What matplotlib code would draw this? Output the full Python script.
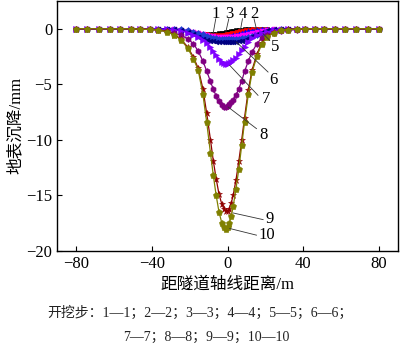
import matplotlib
matplotlib.use('Agg')
import matplotlib.pyplot as plt

plt.rcParams['font.family'] = ['Liberation Serif', 'Noto Sans CJK SC']
plt.rcParams['axes.unicode_minus'] = True

# distance from tunnel axis (m), graded mesh
x = [-80, -74, -68, -62, -56.5, -51, -46, -41, -36.5, -32, -28, -24.5, -21, -18, -15.5, -13,
     -11, -9, -7.5, -6, -4.5, -3, -2, -1, 0, 1, 2, 3, 4.5, 6, 7.5, 9, 11, 13, 15.5, 18,
     21, 24.5, 28, 32, 36.5, 41, 46, 51, 56.5, 62, 68, 74, 80]

# surface settlement (mm) for excavation steps 1..10
s1 = [0, 0, 0, 0, 0, 0, 0, 0,
      -0.02, -0.05, -0.10, -0.18, -0.27, -0.35, -0.41, -0.45, -0.47, -0.48, -0.47, -0.45, -0.42, -0.38, -0.35, -0.32,
      -0.28,
      -0.25, -0.22, -0.19, -0.15, -0.11, -0.08, -0.05, -0.03, -0.01, 0, 0, 0, 0, 0, 0, 0, 0,
      0, 0, 0, 0, 0, 0, 0]
s2 = [0, 0, 0, 0, 0, 0, 0, 0,
      0, -0.02, -0.06, -0.12, -0.20, -0.28, -0.36, -0.43, -0.48, -0.52, -0.54, -0.55, -0.55, -0.54, -0.52, -0.50,
      -0.47,
      -0.44, -0.40, -0.36, -0.30, -0.24, -0.18, -0.13, -0.08, -0.05, -0.02, 0, 0, 0, 0, 0, 0, 0,
      0, 0, 0, 0, 0, 0, 0]
s3 = [0, 0, 0, 0, 0, 0, 0, 0,
      0, -0.03, -0.08, -0.16, -0.27, -0.38, -0.48, -0.57, -0.64, -0.69, -0.72, -0.74, -0.75, -0.75, -0.74, -0.72,
      -0.70,
      -0.67, -0.63, -0.59, -0.52, -0.45, -0.38, -0.31, -0.23, -0.16, -0.09, -0.04, -0.01, 0, 0, 0, 0, 0,
      0, 0, 0, 0, 0, 0, 0]
s4 = [0, 0, 0, 0, 0, 0, 0, 0,
      0, 0, -0.03, -0.08, -0.16, -0.26, -0.36, -0.46, -0.55, -0.62, -0.67, -0.71, -0.74, -0.76, -0.77, -0.77,
      -0.77,
      -0.76, -0.74, -0.72, -0.68, -0.63, -0.58, -0.52, -0.44, -0.36, -0.26, -0.17, -0.09, -0.04, -0.01, 0, 0, 0,
      0, 0, 0, 0, 0, 0, 0]
s5 = [0, 0, 0, 0, 0, 0, 0, 0,
      0, 0, -0.02, -0.06, -0.14, -0.25, -0.37, -0.50, -0.62, -0.72, -0.79, -0.85, -0.89, -0.92, -0.94, -0.95,
      -0.95,
      -0.95, -0.94, -0.93, -0.91, -0.88, -0.84, -0.79, -0.72, -0.64, -0.54, -0.45, -0.30, -0.14, -0.05, -0.01, 0, 0,
      0, 0, 0, 0, 0, 0, 0]
s6 = [0, 0, 0, 0, 0, 0, 0, 0,
      0, -0.02, -0.06, -0.15, -0.30, -0.50, -0.70, -0.88, -1.00, -1.08, -1.13, -1.16, -1.18, -1.20, -1.20, -1.20,
      -1.20,
      -1.20, -1.19, -1.18, -1.16, -1.12, -1.06, -0.98, -0.85, -0.68, -0.48, -0.30, -0.15, -0.06, -0.02, 0, 0, 0,
      0, 0, 0, 0, 0, 0, 0]
s7 = [0, 0, 0, 0, 0, 0, 0, 0,
      -0.02, -0.05, -0.10, -0.19, -0.35, -0.54, -0.78, -0.98, -1.28, -1.62, -2.00, -2.40, -2.70, -2.98, -3.08, -3.14,
      -3.14,
      -3.08, -2.98, -2.85, -2.65, -2.30, -1.95, -1.60, -1.15, -0.85, -0.60, -0.42, -0.27, -0.15, -0.08, -0.04, -0.02, 0,
      0, 0, 0, 0, 0, 0, 0]
s8 = [0, 0, 0, 0, 0, -0.01, -0.03, -0.06,
      -0.12, -0.23, -0.40, -0.60, -0.90, -1.35, -2.00, -2.90, -3.80, -4.75, -5.45, -6.05, -6.55, -6.90, -7.02, -7.05,
      -6.98,
      -6.80, -6.60, -6.40, -6.00, -5.40, -4.70, -3.85, -2.90, -2.10, -1.35, -0.85, -0.55, -0.37, -0.23, -0.14, -0.08, -0.04,
      -0.02, -0.01, 0, 0, 0, 0, 0]
s9 = [0, 0, 0, 0, 0, -0.01, -0.02, -0.05,
      -0.11, -0.24, -0.52, -0.95, -1.65, -2.55, -3.55, -5.40, -7.60, -10.0, -11.9, -13.5, -14.9, -15.8, -16.2, -16.45,
      -16.45,
      -16.2, -15.7, -15.0, -13.6, -11.9, -10.0, -8.0, -5.5, -3.7, -2.3, -1.3, -0.70, -0.32, -0.14, -0.06, -0.02, -0.01,
      0, 0, 0, 0, 0, 0, 0]
s10 = [0, 0, 0, 0, 0, -0.01, -0.03, -0.06,
       -0.13, -0.27, -0.57, -1.02, -1.75, -2.70, -3.70, -5.90, -8.40, -11.2, -13.2, -15.0, -16.5, -17.5, -17.9, -18.0,
       -17.9,
       -17.5, -16.9, -16.0, -14.4, -12.6, -10.5, -8.4, -5.9, -3.9, -2.5, -1.4, -0.75, -0.35, -0.15, -0.07, -0.03, -0.01,
       0, 0, 0, 0, 0, 0, 0]

series = [s1, s2, s3, s4, s5, s6, s7, s8, s9, s10]
colors = ['#000000', '#FF0000', '#0000FF', '#FF00FF', '#1F3FD0', '#000080',
          '#8000FF', '#800080', '#900000', '#808000']
markers = ['s', 'o', '^', 'v', 'D', '<', '>', 'h', '*', 'p']
msizes = [3.2, 3.2, 3.5, 3.5, 3, 3.5, 3.8, 4.2, 4.8, 5]

# curve labels: (text, label pos, leader start, leader end)
labels = [('1', (-6.3, 1.35), (-6.2, 0.9), (-7.6, -0.45)),
          ('3', (0.7, 1.35), (0.7, 0.9), (-0.9, -0.3)),
          ('4', (8.2, 1.35), (7.9, 0.9), (6.9, -0.05)),
          ('2', (14.0, 1.35), (14.0, 0.9), (15.3, -0.05)),
          ('5', (24.9, -1.65), (22.3, -1.05), (18.8, -0.45)),
          ('6', (24.4, -4.65), (21.4, -3.9), (4.7, -1.2)),
          ('7', (20.6, -6.3), (16.1, -6.0), (1.2, -3.3)),
          ('8', (18.8, -9.6), (15.3, -9.0), (0.3, -7.05)),
          ('9', (22.3, -17.1), (18.8, -17.2), (3.0, -16.6)),
          ('10', (20.6, -18.6), (15.3, -18.6), (1.2, -18.0))]

fig = plt.figure(figsize=(4, 3.48), dpi=100)
ax = fig.add_axes([0.1425, 0.2796, 0.8525, 0.7175])

for s, c, m, ms in zip(series, colors, markers, msizes):
    ax.plot(x, s, color=c, lw=0.9, marker=m, ms=ms, mfc=c, mec=c, mew=0.4)

for txt, pos, p0, p1 in labels:
    ax.plot([p0[0], p1[0]], [p0[1], p1[1]], color='#333333', lw=0.6)
    ax.text(pos[0], pos[1], txt, fontsize=12, ha='center', va='center')

ax.set_xlim(-90, 90)
ax.set_ylim(-20, 2.5)
ax.set_xticks([-80, -40, 0, 40, 80])
ax.set_yticks([0, -5, -10, -15, -20])
ax.tick_params(direction='in', length=3.5, width=0.8, labelsize=12, top=False, right=False)
for sp in ax.spines.values():
    sp.set_linewidth(1.0)

ax.set_xlabel('距隧道轴线距离/m', fontsize=12, labelpad=4)
ax.set_ylabel('地表沉降/mm', fontsize=12, labelpad=2)

fig.text(0.5, 0.1006, '开挖步：1—1；2—2；3—3；4—4；5—5；6—6；', fontsize=10,
         ha='center', va='center', color='#222222')
fig.text(0.515, 0.0316, '7—7；8—8；9—9；10—10', fontsize=10,
         ha='center', va='center', color='#222222')

fig.savefig('out.png', dpi=100)
